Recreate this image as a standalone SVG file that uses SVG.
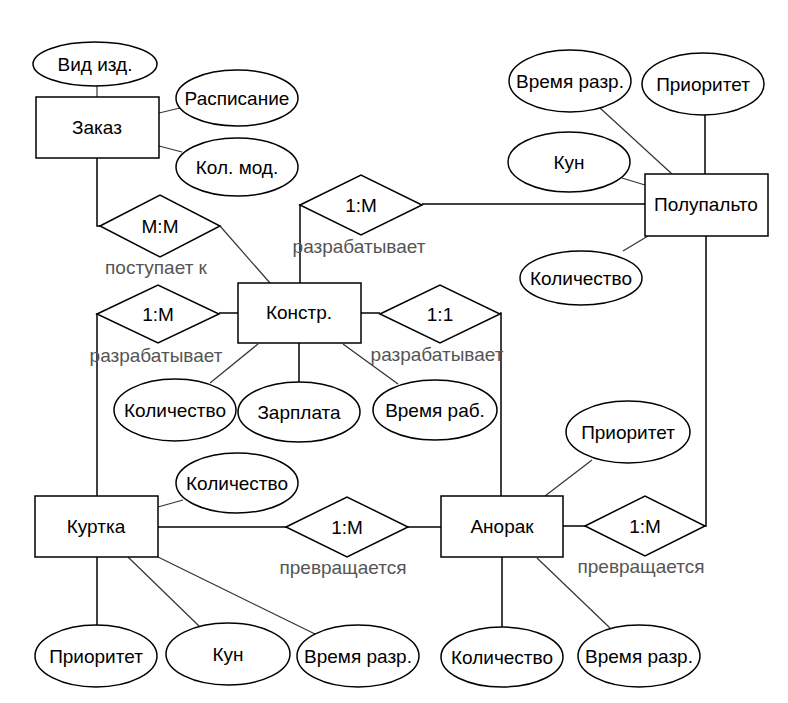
<svg xmlns="http://www.w3.org/2000/svg" width="788" height="703" viewBox="0 0 788 703">
<style>
.sh{fill:#fff;stroke:#000;stroke-width:1.5}
.t{font-family:"Liberation Sans",Arial,sans-serif;font-size:19px;fill:#000;text-anchor:middle}
.g{font-family:"Liberation Sans",Arial,sans-serif;font-size:19px;fill:#555;text-anchor:middle}
.c{fill:none;stroke:#000;stroke-width:1.5}
.a{fill:none;stroke:#333;stroke-width:1.2}
</style>
<rect width="788" height="703" fill="#fff"/>
<g id="connectors">
<line class="a" x1="97" y1="86" x2="97" y2="97"/>
<line class="a" x1="159" y1="113" x2="180" y2="108"/>
<line class="a" x1="159" y1="146" x2="182" y2="152"/>
<polyline class="c" points="97,158 97,226 100,226"/>
<line class="a" x1="220" y1="226" x2="270" y2="283"/>
<line class="c" x1="300" y1="283" x2="300" y2="204"/>
<line class="c" x1="422" y1="204" x2="645" y2="204"/>
<line class="a" x1="600" y1="108" x2="672" y2="174"/>
<line class="c" x1="705" y1="115" x2="705" y2="174"/>
<line class="a" x1="622" y1="178" x2="645" y2="185"/>
<line class="a" x1="648" y1="236" x2="623" y2="251"/>
<polyline class="c" points="706,236 706,526 705,526"/>
<line class="c" x1="219" y1="313" x2="238" y2="313"/>
<line class="c" x1="97" y1="313" x2="97" y2="496"/>
<line class="c" x1="361" y1="313" x2="380" y2="313"/>
<polyline class="c" points="500,313 501,313 501,496"/>
<line class="a" x1="258" y1="344" x2="210" y2="383"/>
<line class="c" x1="299" y1="343" x2="299" y2="382"/>
<line class="a" x1="343" y1="344" x2="398" y2="384"/>
<line class="a" x1="158" y1="507" x2="183" y2="500"/>
<line class="c" x1="158" y1="527" x2="286" y2="527"/>
<line class="c" x1="408" y1="527" x2="441" y2="527"/>
<line class="c" x1="563" y1="526" x2="585" y2="526"/>
<line class="a" x1="545" y1="496" x2="592" y2="460"/>
<line class="c" x1="97" y1="557" x2="97" y2="625"/>
<line class="a" x1="128" y1="557" x2="200" y2="627"/>
<line class="a" x1="158" y1="557" x2="315" y2="634"/>
<line class="c" x1="502" y1="557" x2="502" y2="627"/>
<line class="a" x1="537" y1="558" x2="610" y2="628"/>
</g>
<g id="zakaz"><rect class="sh" x="36" y="97" width="123" height="61"/><text class="t" x="97" y="134">Заказ</text></g>
<g id="konstr"><rect class="sh" x="238" y="283" width="123" height="60"/><text class="t" x="299" y="319">Констр.</text></g>
<g id="polupalto"><rect class="sh" x="645" y="174" width="123" height="62"/><text class="t" x="706" y="211">Полупальто</text></g>
<g id="kurtka"><rect class="sh" x="35" y="496" width="123" height="61"/><text class="t" x="96" y="533">Куртка</text></g>
<g id="anorak"><rect class="sh" x="441" y="496" width="122" height="61"/><text class="t" x="502" y="533">Анорак</text></g>
<g id="r_mm"><polygon class="sh" points="100,226 160,195 220,226 160,257"/><text class="t" x="160" y="233">M:M</text><text class="g" x="156" y="274">поступает к</text></g>
<g id="r_top"><polygon class="sh" points="300,205 361,175 422,205 361,235"/><text class="t" x="361" y="212">1:M</text><text class="g" x="359" y="253">разрабатывает</text></g>
<g id="r_left"><polygon class="sh" points="97,314 158,285 219,314 158,343"/><text class="t" x="158" y="321">1:M</text><text class="g" x="156" y="362">разрабатывает</text></g>
<g id="r_11"><polygon class="sh" points="380,314 440,285 500,314 440,343"/><text class="t" x="440" y="321">1:1</text><text class="g" x="437" y="361">разрабатывает</text></g>
<g id="r_mid"><polygon class="sh" points="286,527 347,497 408,527 347,557"/><text class="t" x="347" y="534">1:M</text><text class="g" x="343" y="574">превращается</text></g>
<g id="r_right"><polygon class="sh" points="585,526 645,496 705,526 645,556"/><text class="t" x="645" y="533">1:M</text><text class="g" x="641" y="573">превращается</text></g>
<g id="a_vid"><ellipse class="sh" cx="95" cy="64" rx="62" ry="22"/><text class="t" x="95" y="71">Вид изд.</text></g>
<g id="a_rasp"><ellipse class="sh" cx="237" cy="98" rx="61" ry="28"/><text class="t" x="237" y="105">Расписание</text></g>
<g id="a_kolmod"><ellipse class="sh" cx="237" cy="167" rx="61" ry="29"/><text class="t" x="237" y="174">Кол. мод.</text></g>
<g id="a_vr_p"><ellipse class="sh" cx="570" cy="81" rx="61" ry="31"/><text class="t" x="570" y="88">Время разр.</text></g>
<g id="a_pr_p"><ellipse class="sh" cx="703" cy="84" rx="61" ry="31"/><text class="t" x="703" y="91">Приоритет</text></g>
<g id="a_kun_p"><ellipse class="sh" cx="569" cy="162" rx="61" ry="30"/><text class="t" x="569" y="169">Кун</text></g>
<g id="a_kol_p"><ellipse class="sh" cx="581" cy="278" rx="61" ry="27"/><text class="t" x="581" y="285">Количество</text></g>
<g id="a_kol_k"><ellipse class="sh" cx="175" cy="410" rx="61" ry="31"/><text class="t" x="175" y="417">Количество</text></g>
<g id="a_zarp"><ellipse class="sh" cx="299" cy="412" rx="61" ry="30"/><text class="t" x="299" y="419">Зарплата</text></g>
<g id="a_vrab"><ellipse class="sh" cx="435" cy="410" rx="62" ry="30"/><text class="t" x="435" y="417">Время раб.</text></g>
<g id="a_kol_ku"><ellipse class="sh" cx="237" cy="483" rx="61" ry="30"/><text class="t" x="237" y="490">Количество</text></g>
<g id="a_pr_a"><ellipse class="sh" cx="628" cy="432" rx="62" ry="31"/><text class="t" x="628" y="439">Приоритет</text></g>
<g id="a_pr_ku"><ellipse class="sh" cx="96" cy="656" rx="61" ry="31"/><text class="t" x="96" y="663">Приоритет</text></g>
<g id="a_kun_ku"><ellipse class="sh" cx="228" cy="654" rx="62" ry="31"/><text class="t" x="228" y="661">Кун</text></g>
<g id="a_vr_ku"><ellipse class="sh" cx="358" cy="656" rx="61" ry="31"/><text class="t" x="358" y="663">Время разр.</text></g>
<g id="a_kol_a"><ellipse class="sh" cx="502" cy="657" rx="61" ry="30"/><text class="t" x="502" y="664">Количество</text></g>
<g id="a_vr_a"><ellipse class="sh" cx="639" cy="656" rx="61" ry="31"/><text class="t" x="639" y="663">Время разр.</text></g>
</svg>
